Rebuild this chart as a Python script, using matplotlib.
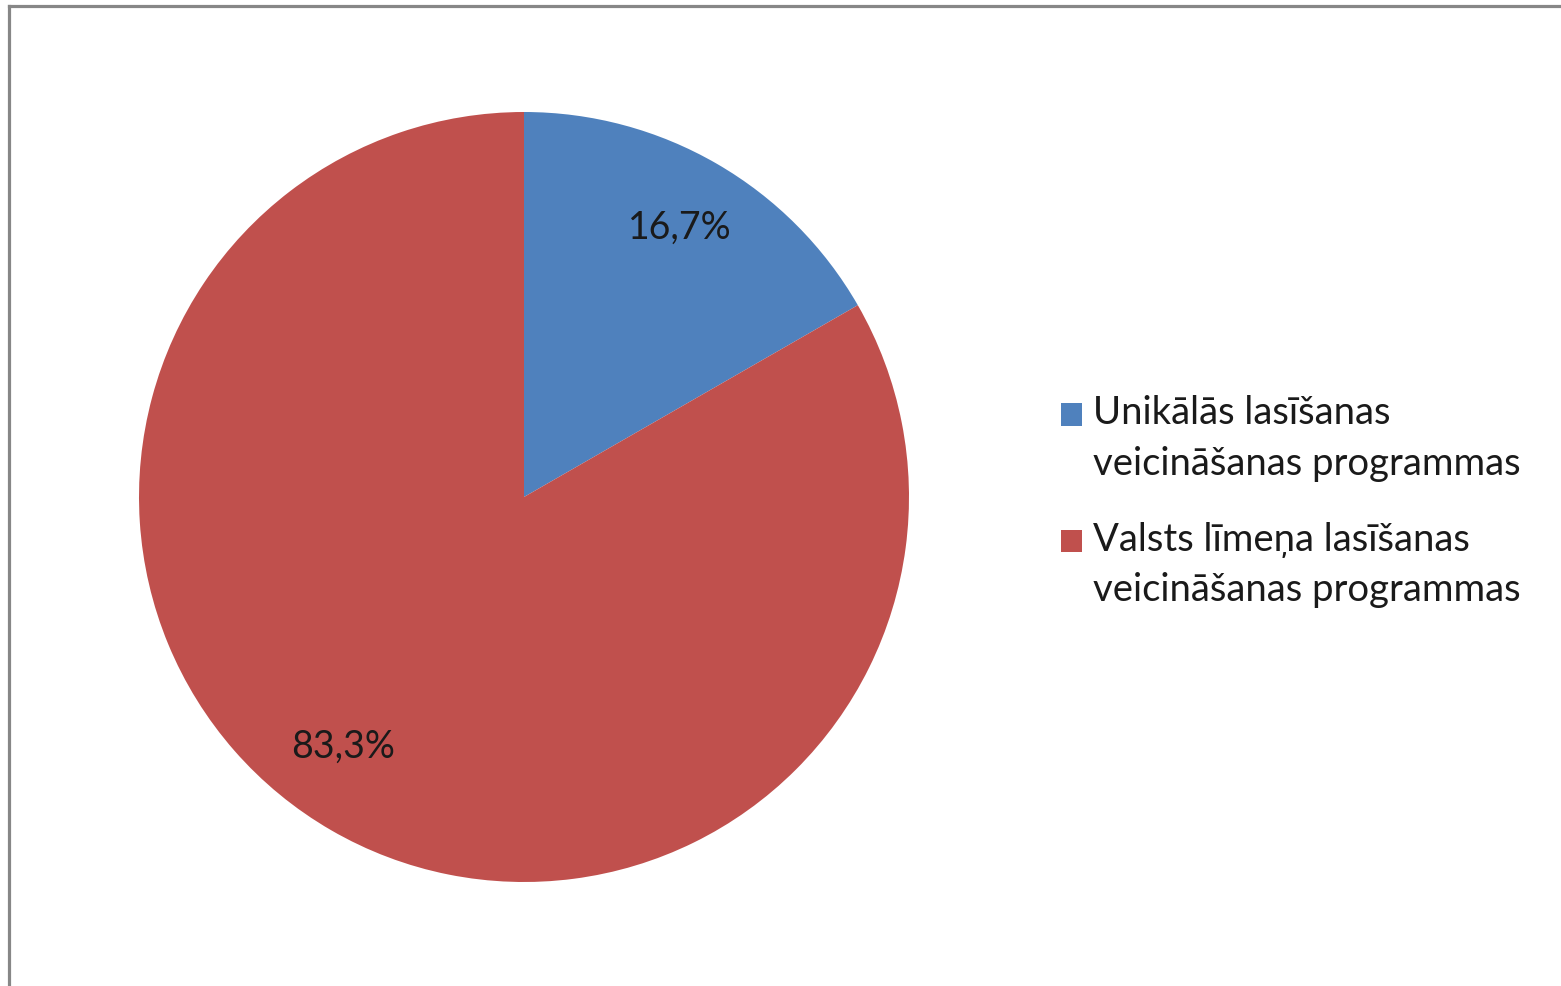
import numpy as np
import matplotlib.pyplot as plt
from matplotlib.lines import Line2D
from matplotlib.patches import Rectangle
from matplotlib.legend_handler import HandlerPatch

plt.rcParams['font.family'] = ['Lato', 'DejaVu Sans']

labels = ['Unikālās lasīšanas\nveicināšanas programmas',
          'Valsts līmeņa lasīšanas\nveicināšanas programmas']
shares = [16.7, 83.3]
colors = ['#4F81BD', '#C0504D']

W, H = 1561, 987
LEG_FS = 27.5
LSP = 1.5


class TopSquare(HandlerPatch):
    # square lined up with the first line of a two-line label
    def create_artists(self, legend, orig_handle, xdescent, ydescent,
                       width, height, fontsize, trans):
        shift = 0.5 * LSP * 0.85 * fontsize
        p = Rectangle((-xdescent, -ydescent + shift), width, height,
                      facecolor=orig_handle.get_facecolor(), edgecolor='none',
                      transform=trans)
        return [p]


fig = plt.figure(figsize=(W / 100, H / 100), dpi=100)

# square axes holding the pie
ax = fig.add_axes([139 / W, (H - 883) / H, 770 / W, 770 / H])
wedges, texts, autotexts = ax.pie(
    shares, colors=colors, startangle=90, counterclock=False,
    autopct=lambda p: f'{p:.1f}%'.replace('.', ','), pctdistance=0.81,
    textprops={'fontsize': 27, 'color': '#1a1a1a'})
ax.set_xlim(-1, 1)
ax.set_ylim(-1, 1)
ax.set_aspect('equal')

# big slice label sits a bit off the bisector (best-fit placement)
ang = np.deg2rad(234)
autotexts[1].set_position((0.80 * np.cos(ang), 0.80 * np.sin(ang)))

leg = fig.legend(wedges, labels, loc='upper left',
                 bbox_to_anchor=(1027 / W, 1 - 361 / H), frameon=False,
                 fontsize=LEG_FS, handlelength=0.53, handleheight=0.53,
                 handletextpad=0.29, labelspacing=1.05,
                 handler_map={w: TopSquare() for w in wedges})
for t in leg.get_texts():
    t.set_linespacing(LSP)
    t.set_color('#1a1a1a')

# chart frame (only top and left edges are visible)
fig.add_artist(Line2D([8.5 / W, 8.5 / W], [0, 1 - 6.5 / H], transform=fig.transFigure,
                      color='#878787', lw=2.3))
fig.add_artist(Line2D([8.5 / W, 1], [1 - 6.5 / H, 1 - 6.5 / H], transform=fig.transFigure,
                      color='#878787', lw=2.3))

fig.savefig('out.png', dpi=100)
